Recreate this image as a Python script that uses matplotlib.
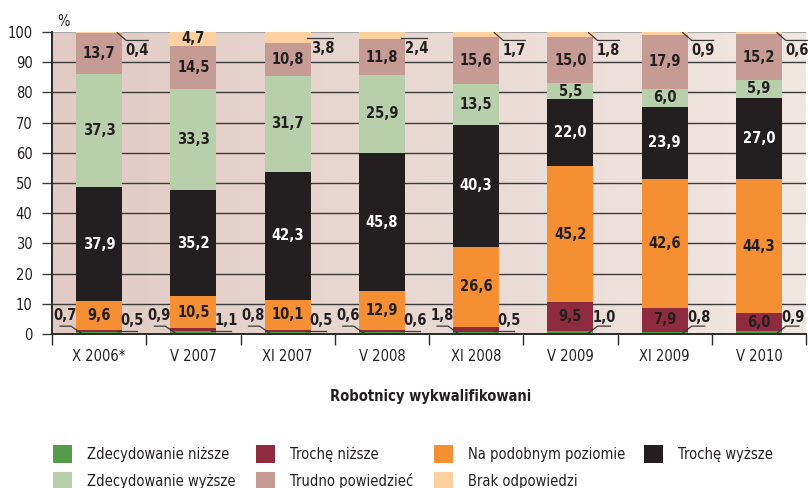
import numpy as np
import matplotlib
matplotlib.use("Agg")
import matplotlib.pyplot as plt
from matplotlib.patches import Rectangle
from matplotlib.colors import LinearSegmentedColormap

plt.rcParams['font.family'] = ['DejaVu Sans']
plt.rcParams['font.stretch'] = 'condensed'

periods = ["X 2006*", "V 2007", "XI 2007", "V 2008", "XI 2008", "V 2009", "XI 2009", "V 2010"]

# stacked from bottom to top
series_names = ["Zdecydowanie niższe", "Trochę niższe", "Na podobnym poziomie", "Trochę wyższe",
                "Zdecydowanie wyższe", "Trudno powiedzieć", "Brak odpowiedzi"]
zdec_nizsze = [0.5, 1.1, 0.5, 0.6, 0.5, 1.0, 0.8, 0.9]
troche_nizsze = [0.7, 0.9, 0.8, 0.6, 1.8, 9.5, 7.9, 6.0]
podobny = [9.6, 10.5, 10.1, 12.9, 26.6, 45.2, 42.6, 44.3]
troche_wyzsze = [37.9, 35.2, 42.3, 45.8, 40.3, 22.0, 23.9, 27.0]
zdec_wyzsze = [37.3, 33.3, 31.7, 25.9, 13.5, 5.5, 6.0, 5.9]
trudno = [13.7, 14.5, 10.8, 11.8, 15.6, 15.0, 17.9, 15.2]
brak = [0.4, 4.7, 3.8, 2.4, 1.7, 1.8, 0.9, 0.6]

colors = ["#569b4c", "#8e2b3f", "#f58f33", "#231f20", "#b8cfab", "#c59b94", "#fdd0a0"]
text_dark = "#231f20"
line_col = "#3a3a3a"

data = [zdec_nizsze, troche_nizsze, podobny, troche_wyzsze, zdec_wyzsze, trudno, brak]


def fmt(v):
    return f"{v:.1f}".replace(".", ",")


W, H = 808, 488
fig = plt.figure(figsize=(W / 100, H / 100), dpi=100)
ax_l, ax_r, ax_b, ax_t = 52, 806, 334, 32
ax = fig.add_axes([ax_l / W, 1 - ax_b / H, (ax_r - ax_l) / W, (ax_b - ax_t) / H])

n = len(periods)
x = np.arange(n)
ax.set_xlim(-0.5, n - 0.5)
ax.set_ylim(0, 100)

# pixel -> data unit helper
px_x = n / (ax_r - ax_l)

# background gradient
cmap = LinearSegmentedColormap.from_list("bg", ["#e2cbc4", "#f1e7e3"])
grad = np.linspace(0, 1, 256).reshape(1, -1)
ax.imshow(grad, cmap=cmap, aspect="auto", extent=(-0.5, n - 0.5, 0, 100), zorder=0)

# grid lines
for gy in range(10, 100, 10):
    ax.axhline(gy, color="#3b3b3b", lw=1.0, zorder=1)
ax.axhline(100, color="#a8a8a8", lw=1.5, zorder=1)

bw = 0.49
bottom = np.zeros(n)
for vals, c in zip(data, colors):
    ax.bar(x, vals, bw, bottom=bottom, color=c, zorder=2, linewidth=0)
    bottom += np.array(vals)

lab_fs = 10.5
# labels inside segments
bottom = np.zeros(n)
for k, (vals, c) in enumerate(zip(data, colors)):
    for i, v in enumerate(vals):
        if v >= 4.5:
            tc = "white" if k == 3 else text_dark
            ax.text(x[i], bottom[i] + v / 2, fmt(v), ha="center", va="center",
                    fontsize=lab_fs, fontweight="bold", color=tc, zorder=4)
    bottom += np.array(vals)


def small_label(xt, yt, v, xs, ys):
    ax.plot(xs, ys, color=line_col, lw=0.9, zorder=5, clip_on=False)
    ax.text(xt, yt, fmt(v), ha="center", va="center", fontsize=lab_fs,
            fontweight="bold", color=text_dark, zorder=5, clip_on=False)


# outside labels with leader lines
for i in range(n):
    left = x[i] - bw / 2
    right = x[i] + bw / 2
    # top: Brak odpowiedzi
    v = brak[i]
    if v < 4.5:
        if v >= 2:
            small_label(right + 12 * px_x, 94.6, v,
                        [right - 4 * px_x, right + 22 * px_x], [98.0, 98.0])
        else:
            small_label(right + 15 * px_x, 94.0, v,
                        [right - 5 * px_x, right + 4 * px_x, right + 26 * px_x], [99.8, 97.2, 97.2])
    # bottom: Trochę niższe (left) and Zdecydowanie niższe (right)
    v = troche_nizsze[i]
    g = zdec_nizsze[i]
    if v < 4.5:
        small_label(left - 11 * px_x, 6.0, v,
                    [left - 16 * px_x, left - 5 * px_x, left + 5 * px_x], [2.6, 2.6, 0.3])
        small_label(right + 10 * px_x, 4.4, g,
                    [right - 5 * px_x, right + 15 * px_x], [1.0, 1.0])
    else:
        small_label(right + 11 * px_x, 5.3, g,
                    [right - 5 * px_x, right + 4 * px_x, right + 17 * px_x], [0.3, 2.6, 2.6])

# axes styling
for s in ["top", "right"]:
    ax.spines[s].set_visible(False)
for s in ["left", "bottom"]:
    ax.spines[s].set_color("#2a2a2a")
    ax.spines[s].set_linewidth(1.4)
    ax.spines[s].set_zorder(6)

ax.set_yticks(range(0, 101, 10))
ax.tick_params(axis="y", length=7, width=1.0, color="#3b3b3b", pad=7,
               labelsize=10.5, labelcolor=text_dark)
ax.set_xticks(x)
ax.set_xticklabels(periods)
ax.set_xticks(np.arange(-0.5, n, 1.0), minor=True)
ax.tick_params(axis="x", which="major", length=0, pad=11, labelsize=10.5, labelcolor=text_dark)
ax.tick_params(axis="x", which="minor", length=8, width=1.0, color="#2a2a2a")

fig.text(63 / W, 1 - 22 / H, "%", ha="center", va="center", fontsize=10.5, color=text_dark)
fig.text(431 / W, 1 - 396 / H, "Robotnicy wykwalifikowani", ha="center", va="center",
         fontsize=10.5, fontweight="bold", color=text_dark)

# legend laid out like the original: 4 columns, two rows
leg_cols = [53, 256, 434, 644]
leg_rows = [445, 472]
leg_slots = [(0, 0), (0, 1), (0, 2), (0, 3), (1, 0), (1, 1), (1, 2)]
for k, (r, c) in enumerate(leg_slots):
    lx, ly = leg_cols[c], leg_rows[r]
    fig.patches.append(Rectangle((lx / W, 1 - (ly + 18) / H), 19 / W, 18 / H,
                                 transform=fig.transFigure, facecolor=colors[k],
                                 edgecolor="none"))
    fig.text((lx + 34) / W, 1 - (ly + 14) / H, series_names[k], ha="left", va="baseline",
             fontsize=10.5, color=text_dark)

fig.savefig("out.png", dpi=100)
